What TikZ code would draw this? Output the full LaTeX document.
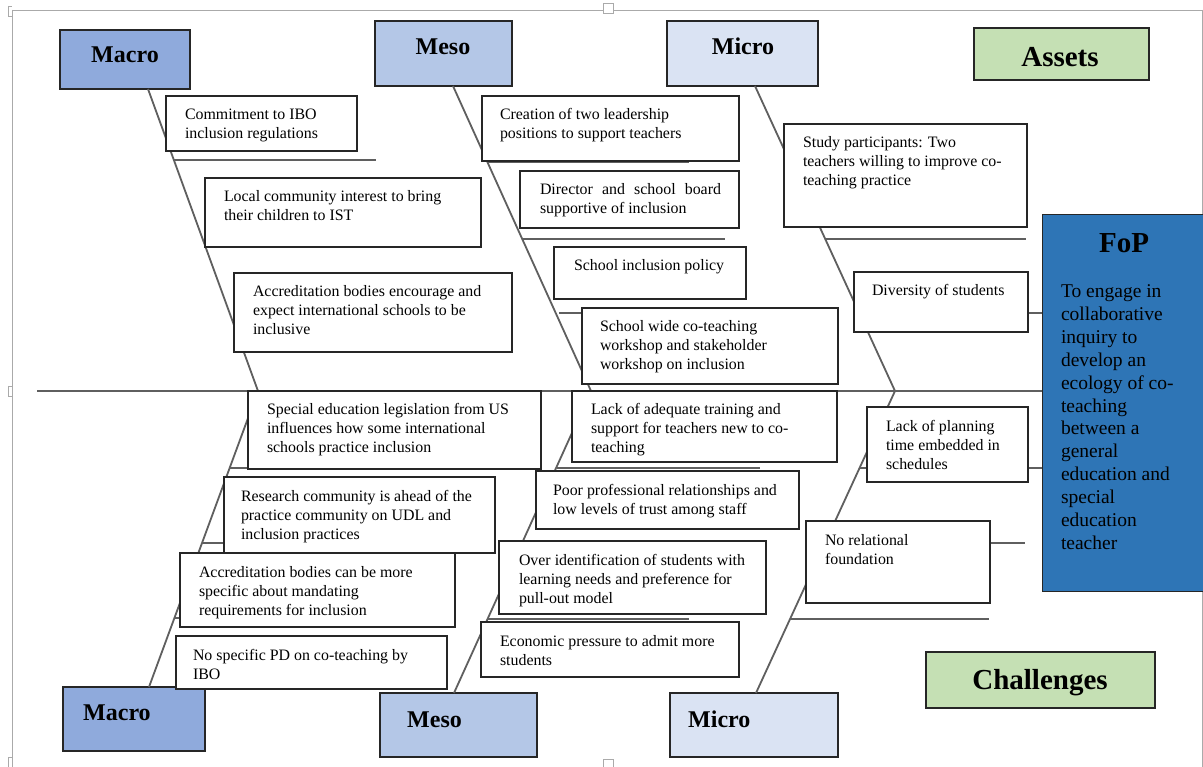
\documentclass[tikz,border=0pt]{standalone}
\usepackage{fontspec}
\setmainfont{Liberation Serif}
\definecolor{macrofill}{RGB}{143,170,220}
\definecolor{mesofill}{RGB}{180,199,231}
\definecolor{microfill}{RGB}{218,227,243}
\definecolor{greenfill}{RGB}{197,224,180}
\definecolor{fopfill}{RGB}{46,117,182}
\definecolor{bone}{RGB}{95,95,95}
\definecolor{edge}{RGB}{38,38,38}
\definecolor{framegray}{RGB}{170,170,170}
\tikzset{
  cell/.style={draw=edge, line width=1.3pt, fill=white, rectangle, inner sep=0pt, outer sep=0pt, anchor=north west},
  levelbox/.style={cell, line width=1.5pt},
  txt/.style={inner sep=0pt, outer sep=0pt, anchor=north west, align=left, font=\fontsize{15.9}{19}\selectfont},
  head/.style={inner sep=0pt, font=\fontsize{24}{28}\selectfont\bfseries},
  bighead/.style={inner sep=0pt, font=\fontsize{29}{33}\selectfont\bfseries},
  spine/.style={draw=bone, line width=1.8pt},
  rib/.style={draw=bone, line width=1.8pt},
  frameline/.style={draw=framegray, line width=0.8pt},
}
% box with top-aligned text: name, x1, y1, x2, y2, text x, text
\newcommand\causebox[7]{%
  \node[cell, minimum width={(#4-#2)*1pt}, minimum height={(#5-#3)*1pt}] (#1) at (#2,#3) {};
  \node[txt] (#1-t) at (#6,#3+10.7) {\strut #7};
}
% heading box: name, x1, y1, x2, y2, fill
\newcommand\levelbox[6]{%
  \node[levelbox, fill=#6, minimum width={(#4-#2)*1pt}, minimum height={(#5-#3)*1pt}] (#1) at (#2,#3) {};
}
\begin{document}
\begin{tikzpicture}[x=1pt,y=-1pt]
\useasboundingbox (0,0) rectangle (1203,767);
\fill[white] (0,0) rectangle (1203,767);

% page frame and handles
\draw[frameline] (12,10) -- (1203,10);
\draw[frameline] (12,10) -- (12,767);
\draw[frameline] (1202,10) -- (1202,767);
\draw[frameline, fill=white] (603,3) rectangle (613,13);
\draw[frameline, fill=white] (603,759) rectangle (613,769);
\draw[frameline] (8,6) -- (12,6) (8,6) -- (8,16) (8,16) -- (12,16);
\draw[frameline] (8,386) -- (12,386) (8,386) -- (8,396) (8,396) -- (12,396);
\draw[frameline] (8,757) -- (12,757) (8,757) -- (8,767);

% heading boxes
\levelbox{macroT}{60}{30}{190}{89}{macrofill}
\levelbox{mesoT}{375}{21}{512}{86}{mesofill}
\levelbox{microT}{667}{21}{818}{86}{microfill}
\levelbox{macroB}{63}{687}{205}{751}{macrofill}
\levelbox{mesoB}{380}{693}{537}{757}{mesofill}
\levelbox{microB}{670}{693}{838}{757}{microfill}
\levelbox{assets}{974}{28}{1149}{80}{greenfill}
\levelbox{challenges}{926}{652}{1155}{708}{greenfill}

% joints on the main spine
\coordinate (jmacro) at (258,391);
\coordinate (jmeso) at (591,391);
\coordinate (jmicro) at (895,391);
\coordinate (tail) at (37,391);
\coordinate (head) at (1042,391);

% main spine and the six bones
\draw[spine] (tail) -- (head);
\draw[spine] (macroT.south west -| 148,0) -- (jmacro);
\draw[spine] (mesoT.south west -| 453,0) -- (jmeso);
\draw[spine] (microT.south west -| 755,0) -- (jmicro);
\draw[spine] (macroB.north west -| 149,0) -- (jmacro);
\draw[spine] (mesoB.north west -| 454,0) -- (jmeso);
\draw[spine] (microB.north west -| 756,0) -- (jmicro);

% ribs
\draw[rib] (173,160) -- (376,160);
\draw[rib] (488,162) -- (689,162);
\draw[rib] (523,239) -- (725,239);
\draw[rib] (559,313) -- (700,313);
\draw[rib] (825,239) -- (1026,239);
\draw[rib] (858,313) -- (1042,313);
\draw[rib] (230,468) -- (300,468);
\draw[rib] (202,543) -- (260,543);
\draw[rib] (174,618) -- (220,618);
\draw[rib] (557,468) -- (760,468);
\draw[rib] (488,619) -- (689,619);
\draw[rib] (860,468) -- (1042,468);
\draw[rib] (825,543) -- (1025,543);
\draw[rib] (790,619) -- (989,619);

% assets (upper half)
\causebox{commit}{166}{96}{357}{151}{185}{Commitment to IBO\\inclusion regulations}
\causebox{local}{205}{178}{481}{247}{224}{Local community interest to bring\\their children to IST}
\causebox{accred}{234}{273}{512}{352}{253}{Accreditation bodies encourage and\\expect international schools to be\\inclusive}
\causebox{leaders}{482}{96}{739}{161}{500}{Creation of two leadership\\positions to support teachers}
\causebox{board}{520}{171}{739}{228}{540}{\hbox to 181pt{Director\hfill and\hfill school\hfill board}\\supportive of inclusion}
\causebox{policy}{554}{247}{746}{299}{574}{School inclusion policy}
\causebox{workshop}{582}{308}{838}{384}{600}{School wide co-teaching\\workshop and stakeholder\\workshop on inclusion}
\causebox{study}{784}{124}{1027}{227}{803}{Study participants: Two\\teachers willing to improve co-\\teaching practice}
\causebox{diversity}{854}{272}{1028}{332}{872}{Diversity of students}

% challenges (lower half)
\causebox{legis}{248}{391}{541}{469}{267}{Special education legislation from US\\influences how some international\\schools practice inclusion}
\causebox{research}{224}{477}{495}{553}{241}{Research community is ahead of the\\practice community on UDL and\\inclusion practices}
\causebox{mandate}{180}{553}{455}{627}{199}{Accreditation bodies can be more\\specific about mandating\\requirements for inclusion}
\causebox{nopd}{176}{636}{447}{689}{193}{No specific PD on co-teaching by\\IBO}
\causebox{training}{572}{391}{837}{462}{591}{Lack of adequate training and\\support for teachers new to co-\\teaching}
\causebox{trust}{536}{471}{799}{529}{553}{Poor professional relationships and\\low levels of trust among staff}
\causebox{pullout}{499}{541}{766}{614}{519}{Over identification of students with\\learning needs and preference for\\pull-out model}
\causebox{economic}{481}{622}{739}{677}{500}{Economic pressure to admit more\\students}
\causebox{planning}{867}{407}{1028}{482}{886}{Lack of planning\\time embedded in\\schedules}
\causebox{relation}{806}{521}{990}{603}{825}{No relational\\foundation}

% focus of practice
\node[draw=edge, line width=1.3pt, fill=fopfill, inner sep=0pt, anchor=north west,
      minimum width=170pt, minimum height=377pt] (fop) at (1042,214) {};
\node[bighead, anchor=base] (fop-title) at (1124,253) {FoP};
\node[txt, font=\fontsize{19.5}{22.9}\selectfont] (fop-t) at (1061,281.5)
  {\strut To engage in\\collaborative\\inquiry to\\develop an\\ecology of co-\\teaching\\between a\\general\\education and\\special\\education\\teacher};

% headings
\node[head, anchor=base] (macroT-t) at (125,63) {Macro};
\node[head, anchor=base] (mesoT-t) at (443,55) {Meso};
\node[head, anchor=base] (microT-t) at (743,55) {Micro};
\node[head, anchor=base west] (macroB-t) at (83,720) {Macro};
\node[head, anchor=base west] (mesoB-t) at (407,727) {Meso};
\node[head, anchor=base west] (microB-t) at (688,727) {Micro};
\node[bighead, anchor=base] (assets-t) at (1060,67) {Assets};
\node[bighead, anchor=base] (challenges-t) at (1040,689) {Challenges};
\end{tikzpicture}
\end{document}
